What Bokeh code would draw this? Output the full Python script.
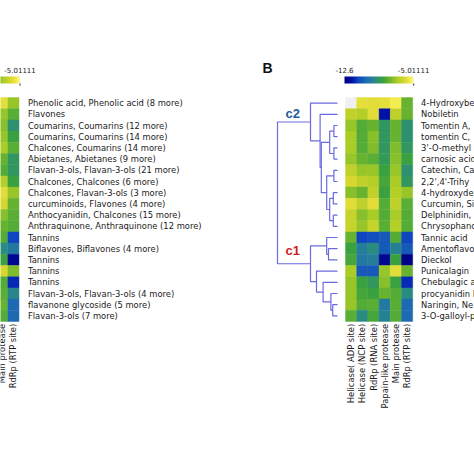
import numpy as np
from bokeh.plotting import figure
from bokeh.models import Range1d, LinearColorMapper, ColumnDataSource
from bokeh.core.properties import value
from bokeh.embed import file_html
from bokeh.resources import INLINE

# ---------------- data ----------------
score_low, score_high = -12.6, -5.01111

cols_b = ["Helicase( ADP site)", "Helicase (NCP site)", "RdRp (RNA site)",
          "Papain-like protease", "Main protease", "RdRp (RTP site)"]
rows_b = ["4-Hydroxybe", "Nobiletin", "Tomentin A,", "tomentin C,", "3'-O-methyl",
          "carnosic acid", "Catechin, Ca", "2,2',4'-Trihy", "4-hydroxyde", "Curcumin, Si",
          "Delphinidin,", "Chrysophano", "Tannic acid", "Amentoflavo", "Dieckol",
          "Punicalagin", "Chebulagic a", "procyanidin I", "Naringin, Ne", "3-O-galloyl-p"]
scores_b = [
    [np.nan, -5.8, -5.9, -5.8, -5.4, -7.7],
    [-6.5, -6.7, -5.9, -11.8, -6.5, -7.7],
    [-7.1, -8.0, -7.7, -8.8, -7.7, -9.0],
    [-6.9, -8.0, -7.3, -8.8, -7.7, -9.0],
    [-6.9, -8.0, -7.4, -8.8, -7.4, -8.8],
    [-7.1, -7.7, -7.9, -8.7, -7.3, -8.4],
    [-6.5, -7.1, -7.1, -8.4, -7.1, -9.0],
    [-6.1, -6.5, -6.7, -8.2, -6.9, -8.8],
    [-7.3, -7.7, -6.5, -8.4, -6.7, -7.1],
    [-5.9, -6.5, -5.9, -8.0, -6.5, -7.9],
    [-6.4, -7.3, -6.9, -8.0, -6.9, -8.0],
    [-6.4, -7.1, -6.4, -7.9, -6.7, -8.0],
    [-7.7, -11.1, -10.9, -10.7, -8.0, -11.1],
    [-8.4, -9.7, -9.2, -10.7, -9.6, -10.7],
    [-8.2, -9.9, -9.7, -12.2, -8.4, -12.45],
    [-6.9, -10.7, -10.7, -7.1, -5.9, -7.7],
    [-7.1, -8.4, -8.8, -7.3, -8.4, -11.5],
    [-7.1, -8.2, -8.4, -7.7, -8.0, -9.2],
    [-7.1, -8.0, -7.9, -9.9, -7.9, -10.3],
    [-7.9, -9.2, -8.2, -9.6, -8.0, -10.3],
]

cols_a = ["Main protease", "RdRp (RTP site)"]
rows_a = ["Phenolic acid, Phenolic acid (8 more)", "Flavones",
          "Coumarins, Coumarins (12 more)", "Coumarins, Coumarins (14 more)",
          "Chalcones, Coumarins (14 more)", "Abietanes, Abietanes (9 more)",
          "Flavan-3-ols, Flavan-3-ols (21 more)", "Chalcones, Chalcones (6 more)",
          "Chalcones, Flavan-3-ols (3 more)", "curcuminoids, Flavones (4 more)",
          "Anthocyanidin, Chalcones (15 more)", "Anthraquinone, Anthraquinone (12 more)",
          "Tannins", "Biflavones, Biflavones (4 more)", "Tannins", "Tannins", "Tannins",
          "Flavan-3-ols, Flavan-3-ols (4 more)", "flavanone glycoside (5 more)",
          "Flavan-3-ols (7 more)"]
scores_a = [
    [-5.8, -7.1], [-7.1, -7.9], [-7.3, -9.0], [-7.1, -8.4], [-6.9, -7.9],
    [-7.7, -8.8], [-8.0, -8.8], [-6.7, -8.4], [-5.9, -7.1], [-6.1, -7.7],
    [-7.3, -7.9], [-7.7, -8.0], [-8.0, -11.1], [-9.2, -9.9], [-8.4, -12.2],
    [-6.1, -7.4], [-8.0, -11.5], [-7.9, -9.4], [-7.7, -10.3], [-8.0, -10.3],
]

# dendrogram of panel B rows: (child, child, height); ids >= 20 are earlier merges
merges_b = [
    (2, 3, 0.06), (4, 5, 0.06), (20, 21, 0.13), (6, 7, 0.06), (8, 9, 0.07),
    (10, 11, 0.07), (24, 25, 0.13), (23, 26, 0.18), (22, 27, 0.27), (1, 28, 0.29),
    (0, 29, 0.45), (13, 14, 0.15), (12, 31, 0.18), (18, 19, 0.08), (17, 33, 0.11),
    (16, 34, 0.24), (15, 35, 0.35), (32, 36, 0.45), (30, 37, 1.0),
]
cluster_labels = ["c2", "c1"]

# ---------------- layout / style ----------------
W = H = 474
U = 11.2                       # px per cell
ox, oy = 345, 97               # panel B heatmap top-left, figure px
A_left = -35.15                # panel A heatmap left (cell units)
A_first_col = 4                # visible columns of A are its 5th and 6th
FONT = value("DejaVu Sans")

anchors = [(0.00, "#00007a"), (0.10, "#0010a8"), (0.20, "#1048c0"), (0.32, "#2070b0"),
           (0.45, "#2a8c80"), (0.55, "#38a040"), (0.65, "#68b430"), (0.75, "#a8cc26"),
           (0.87, "#dcd830"), (0.95, "#f4ec50"), (1.00, "#fcf8a8")]

def hex2rgb(h):
    return np.array([int(h[i:i + 2], 16) for i in (1, 3, 5)], float)

pal = []
ts = np.array([a[0] for a in anchors])
rgbs = np.array([hex2rgb(a[1]) for a in anchors])
for t in np.linspace(0, 1, 256):
    c = [np.interp(t, ts, rgbs[:, k]) for k in range(3)]
    pal.append("#%02x%02x%02x" % tuple(int(round(v)) for v in c))

mapper = LinearColorMapper(palette=pal, low=score_low, high=score_high,
                           nan_color="#f0f0f0")

p = figure(width=W, height=H, output_backend="svg", toolbar_location=None,
           x_range=Range1d(-ox / U, (W - ox) / U),
           y_range=Range1d((H - oy) / U, -oy / U),
           min_border=0, x_axis_location=None, y_axis_location=None)
p.grid.visible = False
p.outline_line_color = None
p.background_fill_color = "white"

def heat(scores, x0):
    xs, ys, vs = [], [], []
    for i, row in enumerate(scores):
        for j, v in enumerate(row):
            xs.append(x0 + j + 0.5)
            ys.append(i + 0.5)
            vs.append(v)
    src = ColumnDataSource(dict(x=xs, y=ys, v=np.array(vs, float)))
    p.rect("x", "y", 1, 1, source=src,
           fill_color={"field": "v", "transform": mapper},
           line_color={"field": "v", "transform": mapper}, line_width=0.4)

heat(scores_b, 0)
heat(scores_a, A_left + A_first_col)

# row labels
lab_style = dict(text_font=FONT, text_font_size="8.4px", text_color="#1a1a1a",
                 text_baseline="middle", text_align="left")
p.text(x=[6 + 0.75] * len(rows_b), y=[i + 0.5 for i in range(len(rows_b))],
       text=rows_b, **lab_style)
p.text(x=[A_left + 6 + 0.8] * len(rows_a), y=[i + 0.5 for i in range(len(rows_a))],
       text=rows_a, **lab_style)

# column labels (rotated)
col_style = dict(text_font=FONT, text_font_size="8.4px", text_color="#1a1a1a",
                 text_baseline="middle", text_align="right", angle=np.pi / 2)
p.text(x=[j + 0.5 for j in range(len(cols_b))], y=[20.2] * len(cols_b),
       text=cols_b, **col_style)
p.text(x=[A_left + A_first_col + j + 0.5 for j in range(len(cols_a))],
       y=[20.2] * len(cols_a), text=cols_a, **col_style)

# color bars
grad = np.linspace(score_low, score_high, 256).reshape(1, -1)
for x0 in (0, A_left):
    cb_l, cb_r = x0 - 1 / U, x0 + 6 + 1 / U
    p.image(image=[grad], x=cb_l, y=-1.875, dw=cb_r - cb_l, dh=0.625,
            color_mapper=mapper)
    p.segment(x0=[cb_r], y0=[-1.25], x1=[cb_r], y1=[-1.05], line_color="#333333",
              line_width=1)
    p.text(x=[cb_l, cb_r], y=[-2.5, -2.5],
           text=["%g" % score_low, "%g" % round(score_high, 5)],
           text_font=FONT, text_font_size="7px", text_color="#1a1a1a",
           text_align="center", text_baseline="middle")

# dendrogram
leaf_x = -8 / U
hscale = 60 / U
def hx(h):
    return leaf_x - h * hscale

pos = {i: i + 0.5 for i in range(len(rows_b))}
hgt = {i: 0.0 for i in range(len(rows_b))}
dxs, dys = [], []
for k, (a, b, h) in enumerate(merges_b):
    dxs.append([hx(hgt[a]), hx(h), hx(h), hx(hgt[b])])
    dys.append([pos[a], pos[a], pos[b], pos[b]])
    nid = len(rows_b) + k
    pos[nid] = (pos[a] + pos[b]) / 2
    hgt[nid] = h
p.multi_line(dxs, dys, line_color="#6a6ae0", line_width=1.2)

# cluster labels
p.text(x=[-60 / U, -60 / U], y=[16 / U, 153 / U], text=cluster_labels,
       text_color=["#1f5a9e", "#d01c1c"], text_font=value("Liberation Sans"),
       text_font_style="bold", text_font_size="13px",
       text_align="left", text_baseline="middle")

# panel letter
p.text(x=[-83 / U], y=[-30 / U], text=["B"], text_font=value("Liberation Sans"),
       text_font_style="bold", text_font_size="14px", text_color="#111111",
       text_align="left", text_baseline="middle")

open("out.html", "w").write(file_html(p, INLINE))
